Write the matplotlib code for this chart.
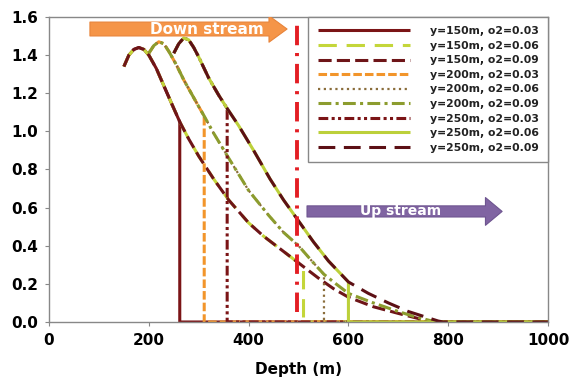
# -*- coding: utf-8 -*-
import numpy as np
import matplotlib
matplotlib.use("Agg")
import matplotlib.pyplot as plt
from matplotlib.patches import FancyArrowPatch
from matplotlib.ticker import FormatStrFormatter

plt.rcParams['font.family'] = ['DejaVu Sans']

# =========================
# data
# =========================
# curve for y=150m
depth_150 = [150, 160, 170, 180, 190, 200, 215, 230, 245, 262, 280, 300, 330, 360, 400,
             430, 460, 500, 510, 540, 570, 600, 650, 700, 730, 760, 770]
val_150 = [1.34, 1.40, 1.43, 1.44, 1.43, 1.40, 1.33, 1.24, 1.15, 1.05, 0.96, 0.87, 0.75, 0.64, 0.52,
           0.45, 0.39, 0.31, 0.29, 0.23, 0.175, 0.13, 0.08, 0.045, 0.025, 0.005, 0.0]

# curve for y=200m
depth_200 = [200, 210, 220, 230, 240, 255, 270, 285, 300, 311, 330, 360, 400, 440, 470,
             500, 530, 551, 575, 600, 650, 700, 730, 760, 775]
val_200 = [1.41, 1.45, 1.47, 1.46, 1.42, 1.35, 1.27, 1.20, 1.13, 1.08, 0.99, 0.86, 0.69, 0.56, 0.47,
           0.40, 0.31, 0.25, 0.20, 0.15, 0.10, 0.055, 0.03, 0.01, 0.0]

# curve for y=250m
depth_250 = [250, 260, 270, 280, 290, 300, 320, 340, 357, 380, 410, 443, 470, 500, 530,
             560, 600, 640, 680, 720, 750, 780, 790]
val_250 = [1.41, 1.46, 1.49, 1.48, 1.44, 1.39, 1.28, 1.19, 1.12, 1.03, 0.90, 0.75, 0.64, 0.53, 0.42,
           0.32, 0.21, 0.15, 0.10, 0.055, 0.03, 0.005, 0.0]

# depth where each series drops to zero
cut_150 = [262, 510, 1000]
cut_200 = [311, 551, 1000]
cut_250 = [357, 600, 1000]

labels = ["y=150m, o2=0.03", "y=150m, o2=0.06", "y=150m, o2=0.09",
          "y=200m, o2=0.03", "y=200m, o2=0.06", "y=200m, o2=0.09",
          "y=250m, o2=0.03", "y=250m, o2=0.06", "y=250m, o2=0.09"]

x_max = 1000
boundary_depth = 497

# =========================
# styles
# =========================
styles = [
    dict(color="#7B1416", lw=2.2, dashes=()),
    dict(color="#C4D63A", lw=2.2, dashes=(6.0, 3.2)),
    dict(color="#6E1518", lw=2.2, dashes=(4.3, 1.7)),
    dict(color="#F2952B", lw=2.2, dashes=(2.8, 1)),
    dict(color="#8A6D3B", lw=1.6, dashes=(1, 1.6)),
    dict(color="#8C9C2E", lw=2.2, dashes=(4.2, 1.4, 1, 1.4)),
    dict(color="#7B1416", lw=2.2, dashes=(3.2, 1.1, 1, 1.1, 1, 1.1)),
    dict(color="#BCD03A", lw=2.2, dashes=()),
    dict(color="#5C1015", lw=2.2, dashes=(5.5, 2.8)),
]


def make_series(depth, val, cut):
    xs = [d for d in depth if d <= cut]
    ys = [v for d, v in zip(depth, val) if d <= cut]
    if cut < x_max:
        xs = xs + [cut, x_max]
        ys = ys + [0.0, 0.0]
    else:
        xs = xs + [x_max]
        ys = ys + [0.0]
    return xs, ys


series = []
for depth, val, cuts in [(depth_150, val_150, cut_150),
                         (depth_200, val_200, cut_200),
                         (depth_250, val_250, cut_250)]:
    for c in cuts:
        series.append(make_series(depth, val, c))

# =========================
# plot
# =========================
fig = plt.figure(figsize=(5.72, 3.83), dpi=100)
ax = fig.add_axes([0.0857, 0.1593, 0.8724, 0.7963])

for (xs, ys), st, lab in zip(series, styles, labels):
    line, = ax.plot(xs, ys, color=st["color"], lw=st["lw"], label=lab,
                    solid_capstyle="butt", dash_capstyle="butt")
    if st["dashes"]:
        line.set_dashes(st["dashes"])

# boundary line
bl, = ax.plot([boundary_depth, boundary_depth], [0.05, 1.59], color="#E31E24", lw=2.8,
              dash_capstyle="butt")
bl.set_dashes((5, 2, 0.8, 2))

# arrows
down = FancyArrowPatch((82, 1.537), (477, 1.537),
                       arrowstyle="simple,head_length=13,head_width=19,tail_width=10",
                       mutation_scale=1, shrinkA=0, shrinkB=0,
                       fc="#F59548", ec="#E8843A", lw=0.8, zorder=5)
ax.add_patch(down)
ax.text(317, 1.537, "Down stream", color="white", fontsize=11, fontweight="bold",
        ha="center", va="center", zorder=6)

up = FancyArrowPatch((517, 0.58), (908, 0.58),
                     arrowstyle="simple,head_length=12,head_width=20,tail_width=8",
                     mutation_scale=1, shrinkA=0, shrinkB=0,
                     fc="#8064A2", ec="#6E5590", lw=0.8, zorder=5)
ax.add_patch(up)
ax.text(705, 0.58, "Up stream", color="white", fontsize=10, fontweight="bold",
        ha="center", va="center", zorder=6)

ax.set_xlim(0, 1000)
ax.set_ylim(0, 1.6)
ax.set_xticks([0, 200, 400, 600, 800, 1000])
ax.set_yticks([0.0, 0.2, 0.4, 0.6, 0.8, 1.0, 1.2, 1.4, 1.6])
ax.yaxis.set_major_formatter(FormatStrFormatter('%.1f'))
ax.tick_params(axis="both", direction="out", length=3, color="#888888",
               labelsize=11, pad=5)
for lab in ax.get_xticklabels() + ax.get_yticklabels():
    lab.set_fontweight("bold")
for sp in ax.spines.values():
    sp.set_color("#888888")
    sp.set_linewidth(1.0)

ax.set_xlabel("Depth (m)", fontsize=11, fontweight="bold", labelpad=10)

leg = ax.legend(loc="upper right", handlelength=8.5, handletextpad=1.85,
                labelspacing=0.42, borderpad=0.85, borderaxespad=0, fancybox=False,
                framealpha=1, edgecolor="#888888", prop=dict(weight="bold", size=7.8))
for t in leg.get_texts():
    t.set_color("#222222")
leg.set_zorder(7)

plt.savefig("out.png", dpi=100)
